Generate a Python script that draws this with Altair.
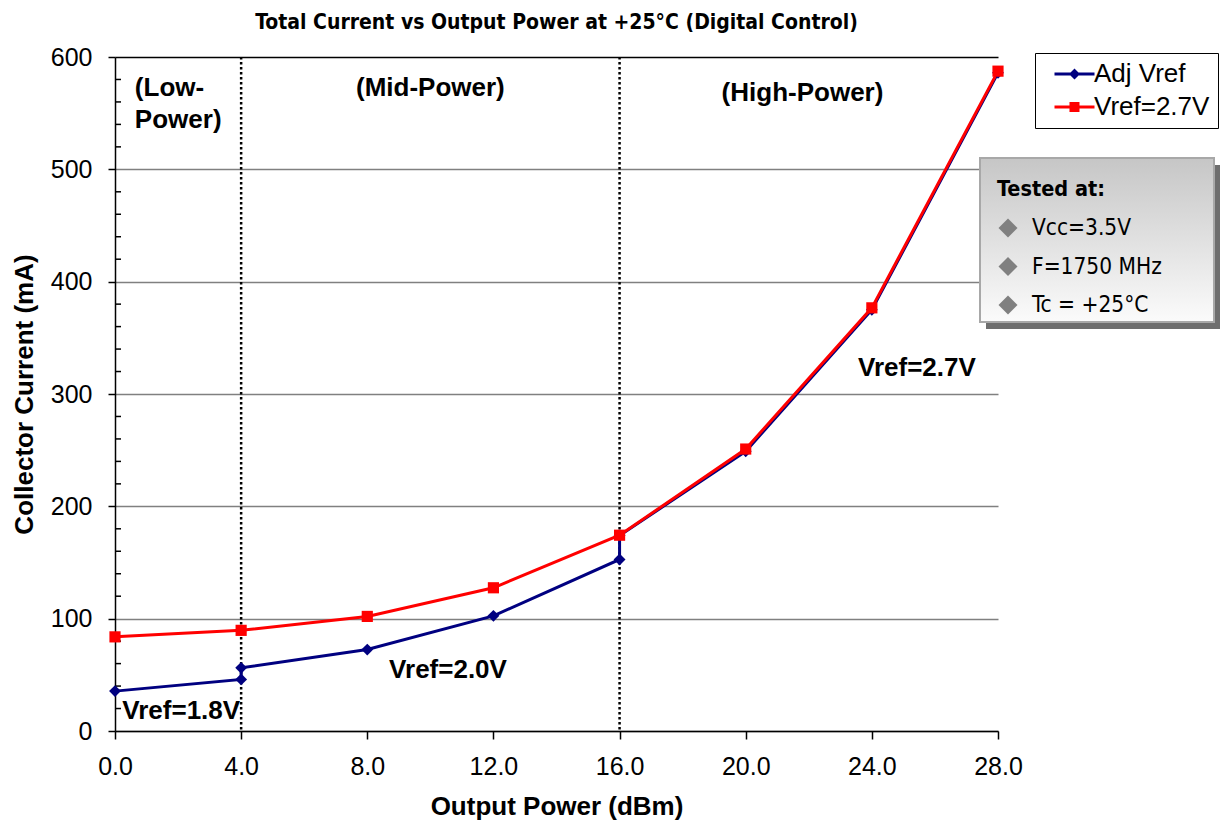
import altair as alt
import pandas as pd

# ---------------- data ----------------
power_adj = [0, 4, 4, 8, 12, 16, 16, 20, 24, 28]
current_adj = [35.5, 45.9, 56.2, 72.5, 102.5, 152.7, 174.0, 249.0, 375.0, 586.0]
power_27 = [0, 4, 8, 12, 16, 20, 24, 28]
current_27 = [83.8, 89.6, 102.0, 127.5, 174.3, 251.0, 376.7, 587.4]
series_names = ["Adj Vref", "Vref=2.7V"]
series_colors = ["#000080", "#FF0000"]
region_bounds = [4, 16]
x_ticks = [0, 4, 8, 12, 16, 20, 24, 28]
y_major = [0, 100, 200, 300, 400, 500, 600]
y_minor = [v for v in range(20, 600, 20) if v % 100 != 0]

ann_left_text = ["(Low-", "Power)"]
ann_left_x = [0.63, 0.63]
ann_left_y = [572, 544]
ann_center_text = ["(Mid-Power)", "(High-Power)", "Vref=2.7V", "Vref=2.0V", "Vref=1.8V"]
ann_center_x = [10.0, 21.8, 25.43, 10.56, 2.1]
ann_center_y = [572, 568, 323, 54, 17.6]

info_title = "Tested at:"
info_lines = ["Vcc=3.5V", "F=1750 MHz", "Tc = +25\u00b0C"]

TITLE = "Total Current vs Output Power at +25\u00b0C (Digital Control)"
XT = "Output Power (dBm)"
YT = "Collector Current (mA)"

# ---------------- setup ----------------
W, H = 883, 674
ARIAL = "Liberation Sans, Arial, sans-serif"
NARROW = "Liberation Sans Narrow, Arial Narrow, DejaVu Sans Condensed, sans-serif"

df_adj = pd.DataFrame({"power": power_adj, "current": current_adj, "idx": range(len(power_adj))})
df_27 = pd.DataFrame({"power": power_27, "current": current_27, "idx": range(len(power_27))})
df_bounds = pd.DataFrame({"power": region_bounds})
df_minor = pd.DataFrame({"power": [0] * len(y_minor), "current": y_minor})
df_left = pd.DataFrame({"text": ann_left_text, "power": ann_left_x, "current": ann_left_y})
df_center = pd.DataFrame({"text": ann_center_text, "power": ann_center_x, "current": ann_center_y})
df_legend = pd.DataFrame({"series": series_names})
one = pd.DataFrame({"a": [0]})

xscale = alt.Scale(domain=[0, 28], nice=False, zero=False)
yscale = alt.Scale(domain=[0, 600], nice=False)

x_axis = alt.Axis(values=x_ticks, format=".1f", tickSize=8, labelPadding=15,
                  titlePadding=14, grid=False, labelFlush=False, labelOverlap=False)
y_axis = alt.Axis(values=y_major, tickSize=7, labelPadding=16, titlePadding=13,
                  grid=True,
                  gridColor={"condition": {"test": "datum.value === 600", "value": "#000000"},
                             "value": "#808080"},
                  gridWidth=1.5, labelFlush=False, labelOverlap=False)

X = alt.X("power:Q", scale=xscale, axis=x_axis, title=XT)
Y = alt.Y("current:Q", scale=yscale, axis=y_axis, title=YT)

# region dividers
rules = alt.Chart(df_bounds).mark_rule(color="black", strokeWidth=2.5, strokeDash=[2.5, 2.5]).encode(x=X)

# minor ticks on the value axis (pointing inward)
minor = alt.Chart(df_minor).mark_tick(orient="horizontal", size=6, thickness=1.5,
                                      color="black", xOffset=3, opacity=1).encode(x=X, y=Y)

blue_line = alt.Chart(df_adj).mark_line(color=series_colors[0], strokeWidth=3).encode(
    x=X, y=Y, order="idx:Q")
red_line = alt.Chart(df_27).mark_line(color=series_colors[1], strokeWidth=3).encode(
    x=X, y=Y, order="idx:Q")
blue_pts = alt.Chart(df_adj).mark_point(shape="diamond", filled=True, size=140,
                                         color=series_colors[0], opacity=1).encode(x=X, y=Y)
red_pts = alt.Chart(df_27).mark_point(shape="square", filled=True, size=125,
                                       color=series_colors[1], opacity=1).encode(x=X, y=Y)

txt_left = alt.Chart(df_left).mark_text(font=ARIAL, fontWeight="bold", fontSize=26,
                                         color="black", align="left", baseline="middle").encode(
    x=X, y=Y, text="text:N")
txt_center = alt.Chart(df_center).mark_text(font=ARIAL, fontWeight="bold", fontSize=26,
                                             color="black", align="center", baseline="middle").encode(
    x=X, y=Y, text="text:N")

# info box ("Tested at:")
BX0, BX1, BY0, BY1 = 865, 1099, 101, 265
shadow = alt.Chart(one).mark_rect(color="#6e6e6e").encode(
    x=alt.value(BX0 + 6), x2=alt.value(BX1 + 6), y=alt.value(BY0 + 7), y2=alt.value(BY1 + 7)
)
grad = alt.LinearGradient(gradient="linear",
                          stops=[alt.GradientStop(offset=0, color="#c6c6c6"),
                                 alt.GradientStop(offset=1, color="#fbfbfb")],
                          x1=0, x2=0, y1=0, y2=1)
box = alt.Chart(one).mark_rect(fill=grad, stroke="#a8a8a8", strokeWidth=2).encode(
    x=alt.value(BX0), x2=alt.value(BX1), y=alt.value(BY0), y2=alt.value(BY1)
)
info_layers = [shadow, box,
               alt.Chart(one).mark_text(text=info_title, font=NARROW, fontWeight="bold", fontSize=21.5,
                                        color="black", align="left", baseline="middle").encode(
                   x=alt.value(BX0 + 17), y=alt.value(BY0 + 32))]
for i, line in enumerate(info_lines):
    yy = BY0 + 70 + 38.5 * i
    info_layers.append(alt.Chart(one).mark_point(shape="diamond", filled=True, size=360,
                                                 color="#808080", opacity=1).encode(
        x=alt.value(BX0 + 28), y=alt.value(yy)))
    info_layers.append(alt.Chart(one).mark_text(text=line, font=NARROW, fontSize=22.5, color="black",
                                                align="left", baseline="middle").encode(
        x=alt.value(BX0 + 52), y=alt.value(yy)))

# legend (line + marker symbols)
legend_paths = [
    "M-0.273,-0.27H7V0.27H-0.273Z M2.364,0L3.364,-1L4.364,0L3.364,1Z",
    "M-0.273,-0.27H7V0.27H-0.273Z M2.45,-0.91H4.27V0.91H2.45Z",
]
leg = alt.Legend(title=None, orient="none", legendX=920, legendY=-4, strokeColor="black",
                 fillColor="white", padding=8, labelFont=ARIAL, labelFontSize=26,
                 labelColor="black", labelOffset=25, rowPadding=7, symbolSize=121,
                 symbolStrokeWidth=0, labelLimit=400)
legend_layer = alt.Chart(df_legend).transform_filter("false").mark_point(
    filled=True, size=121, opacity=1).encode(
    color=alt.Color("series:N", scale=alt.Scale(domain=series_names, range=series_colors), legend=leg),
    shape=alt.Shape("series:N", scale=alt.Scale(domain=series_names, range=legend_paths), legend=leg),
)

chart = alt.layer(
    rules, minor, blue_line, red_line, blue_pts, red_pts, txt_left, txt_center, *info_layers, legend_layer
).properties(
    width=W, height=H,
    autosize=alt.AutoSizeParams(type="none"),
    padding={"left": 107, "top": 49, "right": 222, "bottom": 89},
    title=alt.Title(TITLE, font=NARROW, fontSize=21, fontWeight="bold", color="black",
                    anchor="middle", offset=12),
).configure_view(stroke=None).configure_axis(
    labelFont=ARIAL, labelFontSize=25, labelColor="black",
    titleFont=ARIAL, titleFontSize=26, titleFontWeight="bold", titleColor="black",
    domainColor="black", domainWidth=1.5, tickColor="black", tickWidth=1.5,
)

chart.save("out.html", embed_options={"renderer": "svg", "actions": False})
